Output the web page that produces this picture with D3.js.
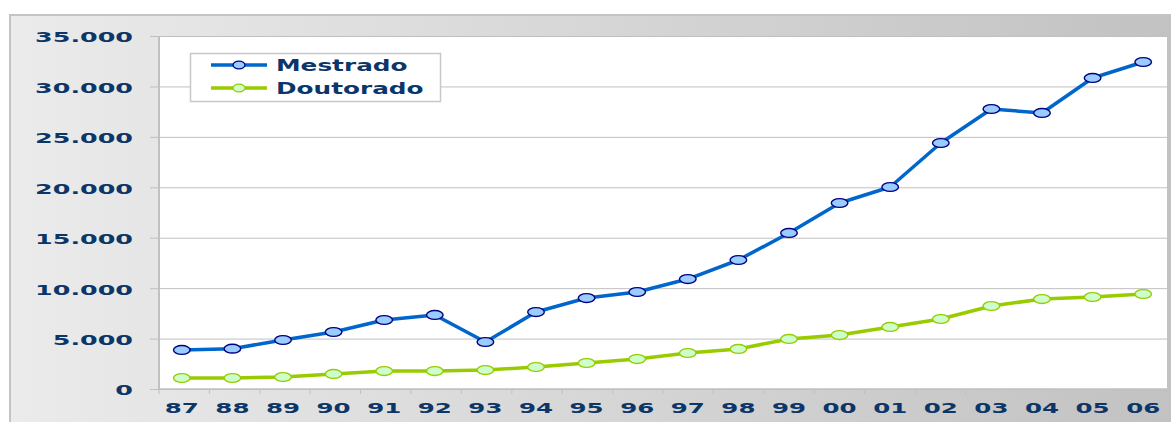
<!DOCTYPE html>
<html>
<head>
<meta charset="utf-8">
<script src="https://cdn.jsdelivr.net/npm/d3@7"></script>
<style>
  html, body { margin: 0; padding: 0; background: #fff; }
  svg { display: block; }
  text { font-family: "DejaVu Sans", Verdana, sans-serif; font-weight: bold; fill: #0d3668; }
</style>
</head>
<body>
<svg id="chart" width="1171" height="422"></svg>
<script>
// data
const years = ["87","88","89","90","91","92","93","94","95","96","97","98","99","00","01","02","03","04","05","06"];
const mestrado = [3870, 4000, 4860, 5650, 6840, 7340, 4660, 7630, 9020, 9620, 10900, 12790, 15470, 18440, 20030, 24390, 27760, 27370, 30840, 32420];
const doutorado = [1090, 1090, 1190, 1490, 1780, 1780, 1880, 2180, 2580, 2970, 3570, 3970, 4960, 5350, 6150, 6940, 8230, 8920, 9120, 9420];
const yTicks = [0, 5000, 10000, 15000, 20000, 25000, 30000, 35000];
const seriesNames = ["Mestrado", "Doutorado"];

const W = 1171, H = 422;
const plot = { left: 159, right: 1167, top: 36, bottom: 389 };
const SX = 1.75; // the original text is stretched horizontally

const svg = d3.select("#chart");

// background frame with horizontal gradient
const defs = svg.append("defs");
const grad = defs.append("linearGradient").attr("id", "bg").attr("x1", 0).attr("x2", 1).attr("y1", 0).attr("y2", 0);
grad.append("stop").attr("offset", "0%").attr("stop-color", "#ebebeb");
grad.append("stop").attr("offset", "100%").attr("stop-color", "#c2c2c2");

svg.append("rect")
  .attr("x", 10).attr("y", 15).attr("width", W - 9).attr("height", H - 14)
  .attr("fill", "url(#bg)")
  .attr("stroke", "#c4c4c4").attr("stroke-width", 2);

svg.append("rect")
  .attr("x", plot.left).attr("y", plot.top)
  .attr("width", plot.right - plot.left).attr("height", plot.bottom - plot.top)
  .attr("fill", "#fff");

const x = d3.scaleBand().domain(years).range([156.5, 1168.5]);
const y = d3.scaleLinear().domain([0, 35000]).range([plot.bottom, plot.top]);
const cx = d => x(d) + x.bandwidth() / 2;

// gridlines + y axis
const fmt = v => v === 0 ? "0" : d3.format(",")(v).replace(",", ".");
const yAxis = svg.append("g")
  .attr("transform", `translate(${plot.left},0)`)
  .call(d3.axisLeft(y).tickValues(yTicks).tickSize(9).tickFormat(fmt));
yAxis.select(".domain").remove();
yAxis.selectAll(".tick line").attr("stroke", "#c0c0c0")
  .attr("x2", plot.right - plot.left).attr("x1", -9);
yAxis.selectAll(".tick text")
  .attr("x", null).attr("dy", null)
  .attr("dominant-baseline", "central")
  .attr("transform", `translate(-26,1) scale(${SX},1)`)
  .style("font-size", "14.5px");

// left axis line
svg.append("line")
  .attr("x1", plot.left).attr("x2", plot.left)
  .attr("y1", plot.top).attr("y2", plot.bottom)
  .attr("stroke", "#c0c0c0").attr("stroke-width", 2);

// x axis
const xTicks = d3.range(years.length + 1).map(i => plot.left + i * (plot.right - plot.left) / years.length);
const xg = svg.append("g");
xg.append("line")
  .attr("x1", plot.left).attr("x2", plot.right)
  .attr("y1", plot.bottom).attr("y2", plot.bottom)
  .attr("stroke", "#c0c0c0").attr("stroke-width", 1.5);
xg.selectAll("line.tk").data(xTicks).join("line").attr("class", "tk")
  .attr("x1", d => d).attr("x2", d => d)
  .attr("y1", plot.bottom).attr("y2", plot.bottom + 5)
  .attr("stroke", "#c0c0c0");
xg.selectAll("text").data(years).join("text")
  .attr("text-anchor", "middle")
  .attr("dominant-baseline", "central")
  .attr("transform", d => `translate(${cx(d)},408) scale(${SX},1)`)
  .style("font-size", "14px")
  .text(d => d);

// series
const styles = [
  { values: mestrado, line: "#0066cc", fill: "#99ccff", stroke: "#000080" },
  { values: doutorado, line: "#99cc00", fill: "#ccffcc", stroke: "#99cc00" }
];

const line = d3.line().x((d, i) => cx(years[i])).y(d => y(d));

styles.slice().reverse().forEach(s => {
  const g = svg.append("g");
  g.append("path").datum(s.values)
    .attr("d", line)
    .attr("fill", "none")
    .attr("stroke", s.line)
    .attr("stroke-width", 3.5)
    .attr("stroke-linejoin", "round");
  g.selectAll("ellipse").data(s.values).join("ellipse")
    .attr("cx", (d, i) => cx(years[i]))
    .attr("cy", d => y(d))
    .attr("rx", 8.3).attr("ry", 4.4)
    .attr("fill", s.fill)
    .attr("stroke", s.stroke)
    .attr("stroke-width", 1.4);
});

// legend
const lg = svg.append("g");
lg.append("rect")
  .attr("x", 190.5).attr("y", 53.5).attr("width", 250).attr("height", 48)
  .attr("fill", "#fff").attr("stroke", "#c8c8c8").attr("stroke-width", 1.5);
seriesNames.forEach((name, i) => {
  const s = styles[i];
  const ly = 65 + i * 23;
  lg.append("line")
    .attr("x1", 211).attr("x2", 267).attr("y1", ly).attr("y2", ly)
    .attr("stroke", s.line).attr("stroke-width", 3.5);
  lg.append("ellipse")
    .attr("cx", 239).attr("cy", ly).attr("rx", 6).attr("ry", 3.8)
    .attr("fill", s.fill).attr("stroke", s.stroke).attr("stroke-width", 1.3);
  lg.append("text")
    .attr("dominant-baseline", "central")
    .attr("transform", `translate(276,${ly + 0.5}) scale(1.65,1)`)
    .style("font-size", "15px")
    .text(name);
});
</script>
</body>
</html>
